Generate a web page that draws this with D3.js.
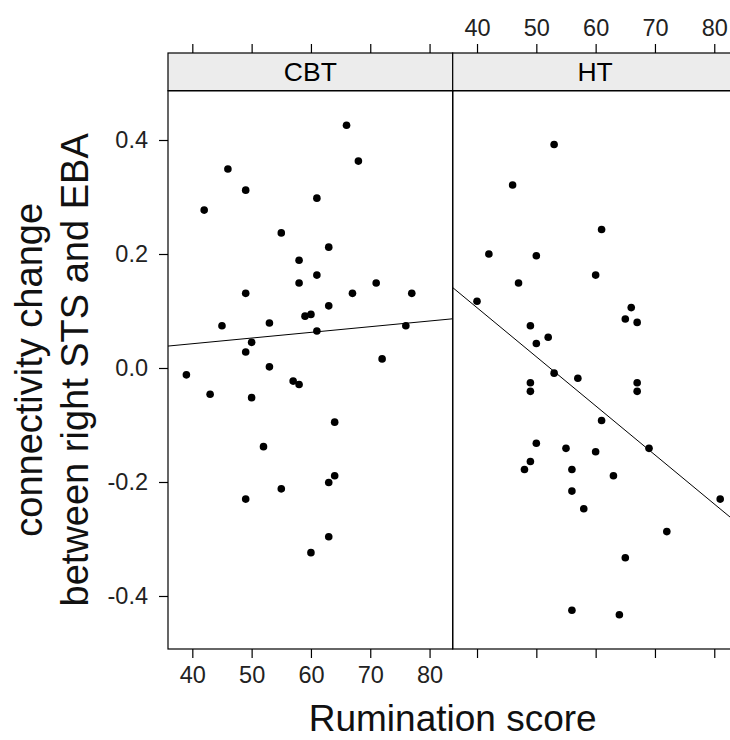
<!DOCTYPE html>
<html>
<head>
<meta charset="utf-8">
<script src="https://cdn.jsdelivr.net/npm/d3@7"></script>
<style>
  html, body { margin: 0; padding: 0; background: #fff; }
  svg { display: block; font-family: "Liberation Sans", Arial, sans-serif; }
</style>
</head>
<body>
<svg id="chart" width="730" height="740"></svg>
<script>
// Rumination score vs. change in right STS–EBA connectivity, by treatment group
const panels = ["CBT", "HT"];

const cbtScore = [66, 68, 46, 49, 61, 42, 55, 63, 58, 61, 58, 49, 67, 71, 77, 63, 59, 60, 45, 53,
                  61, 76, 50, 49, 72, 53, 39, 57, 58, 43, 50, 64, 52, 64, 63, 55, 49, 63, 60];
const cbtConn  = [0.426, 0.363, 0.349, 0.312, 0.298, 0.277, 0.237, 0.212, 0.189, 0.163, 0.149, 0.131,
                  0.131, 0.149, 0.131, 0.109, 0.091, 0.094, 0.074, 0.079, 0.065, 0.074, 0.045, 0.028,
                  0.016, 0.002, -0.012, -0.023, -0.029, -0.046, -0.052, -0.095, -0.138, -0.189,
                  -0.201, -0.212, -0.230, -0.296, -0.324];

const htScore = [53, 46, 61, 42, 50, 60, 47, 40, 66, 65, 67, 49, 52, 50, 53, 57, 49, 49, 67, 67,
                 61, 50, 55, 60, 69, 49, 48, 56, 63, 56, 58, 81, 72, 65, 56, 64];
const htConn  = [0.392, 0.321, 0.243, 0.200, 0.197, 0.163, 0.149, 0.117, 0.106, 0.086, 0.080, 0.074,
                 0.054, 0.043, -0.009, -0.018, -0.026, -0.041, -0.026, -0.041, -0.092, -0.132,
                 -0.141, -0.147, -0.141, -0.164, -0.178, -0.178, -0.189, -0.216, -0.247, -0.230,
                 -0.287, -0.333, -0.425, -0.433];

const xTicks = [40, 50, 60, 70, 80];
const yTicks = [-0.4, -0.2, 0.0, 0.2, 0.4];

const groups = [
  { name: panels[0], x: cbtScore, y: cbtConn },
  { name: panels[1], x: htScore,  y: htConn }
];

// layout
const panelW = 284.7;
const panelLeft = 168;
const panelTop = 90.7;
const panelBottom = 649;
const stripTop = 53;
const tickLen = 9;
const tickFont = 23.5;

const svg = d3.select("#chart");

const y = d3.scaleLinear().domain([-0.493, 0.4865]).range([panelBottom, panelTop]);

// plain hyphen for negative tick labels
const yFmt = v => v.toFixed(1);

function lmFit(xs, ys) {
  const mx = d3.mean(xs), my = d3.mean(ys);
  let sxy = 0, sxx = 0;
  xs.forEach((xv, i) => { sxy += (xv - mx) * (ys[i] - my); sxx += (xv - mx) ** 2; });
  const b = sxy / sxx;
  return { a: my - b * mx, b };
}

groups.forEach((g, i) => {
  const x0 = panelLeft + i * panelW;
  const x = d3.scaleLinear().domain([35.9, 83.9]).range([x0, x0 + panelW]);

  const clipId = "clip" + i;
  svg.append("clipPath").attr("id", clipId)
    .append("rect").attr("x", x0).attr("y", panelTop)
    .attr("width", panelW).attr("height", panelBottom - panelTop);

  // strip
  svg.append("rect")
    .attr("x", x0).attr("y", stripTop)
    .attr("width", panelW).attr("height", panelTop - stripTop)
    .attr("fill", "#ececec").attr("stroke", "#000").attr("stroke-width", 1.2);
  svg.append("text")
    .attr("x", x0 + panelW / 2).attr("y", (stripTop + panelTop) / 2 + 9.5)
    .attr("text-anchor", "middle").attr("font-size", 26.5).attr("fill", "#000")
    .text(g.name);

  // fitted line
  const fit = lmFit(g.x, g.y);
  const dom = x.domain();
  svg.append("line")
    .attr("clip-path", `url(#${clipId})`)
    .attr("x1", x(dom[0])).attr("y1", y(fit.a + fit.b * dom[0]))
    .attr("x2", x(dom[1])).attr("y2", y(fit.a + fit.b * dom[1]))
    .attr("stroke", "#000").attr("stroke-width", 1);

  // points
  svg.append("g").attr("clip-path", `url(#${clipId})`)
    .selectAll("circle").data(g.x.map((xv, k) => [xv, g.y[k]]))
    .join("circle")
    .attr("cx", d => x(d[0])).attr("cy", d => y(d[1]))
    .attr("r", 3.8).attr("fill", "#000");

  // panel frame
  svg.append("rect")
    .attr("x", x0).attr("y", panelTop)
    .attr("width", panelW).attr("height", panelBottom - panelTop)
    .attr("fill", "none").attr("stroke", "#000").attr("stroke-width", 1.2);

  // alternating x axes: labels below the first panel, above the second
  const bottom = d3.axisBottom(x).tickValues(xTicks).tickSize(tickLen).tickPadding(8)
    .tickFormat(i === 0 ? d3.format("d") : () => "");
  const top = d3.axisTop(x).tickValues(xTicks).tickSize(tickLen).tickPadding(8)
    .tickFormat(i === 1 ? d3.format("d") : () => "");

  const gb = svg.append("g").attr("transform", `translate(0,${panelBottom})`).call(bottom);
  const gt = svg.append("g").attr("transform", `translate(0,${stripTop})`).call(top);
  [gb, gt].forEach(ax => {
    ax.select(".domain").remove();
    ax.selectAll("line").attr("stroke", "#000").attr("stroke-width", 1.2);
    ax.selectAll("text").attr("font-size", tickFont).attr("fill", "#222")
      .attr("font-family", "Liberation Sans, Arial, sans-serif");
  });
});

// y axis on the left of the first panel
const yAxis = d3.axisLeft(y).tickValues(yTicks).tickSize(tickLen).tickPadding(11)
  .tickFormat(yFmt);
const gy = svg.append("g").attr("transform", `translate(${panelLeft},0)`).call(yAxis);
gy.select(".domain").remove();
gy.selectAll("line").attr("stroke", "#000").attr("stroke-width", 1.2);
gy.selectAll("text").attr("font-size", tickFont).attr("fill", "#222")
  .attr("font-family", "Liberation Sans, Arial, sans-serif");

// axis titles
svg.append("text")
  .attr("x", panelLeft + panelW).attr("y", 731)
  .attr("text-anchor", "middle").attr("font-size", 37).attr("fill", "#111")
  .text("Rumination score");

const yTitle = svg.append("text")
  .attr("transform", `translate(0,${(panelTop + panelBottom) / 2}) rotate(-90)`)
  .attr("text-anchor", "middle").attr("font-size", 38).attr("fill", "#111");
yTitle.append("tspan").attr("x", 0).attr("y", 42).text("connectivity change");
yTitle.append("tspan").attr("x", 0).attr("y", 88).text("between right STS and EBA");
</script>
</body>
</html>
